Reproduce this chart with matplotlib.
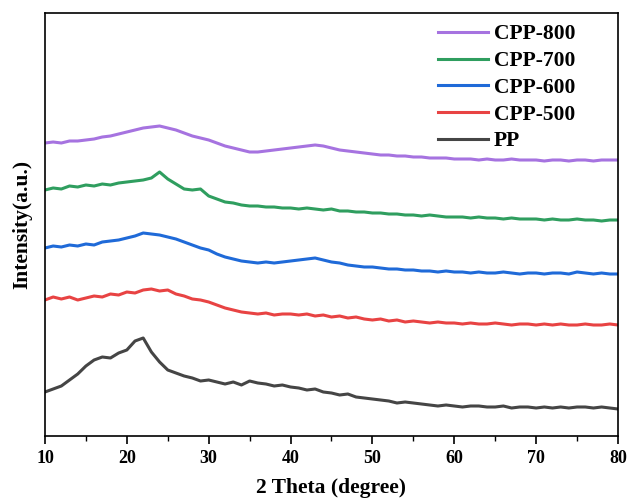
import numpy as np
import matplotlib
matplotlib.use("Agg")
import matplotlib.pyplot as plt
from matplotlib.ticker import MultipleLocator

# 2 theta, шаг 1 градус
two_theta = np.arange(10, 81, 1)

pp = [44, 47, 50, 56, 62, 70, 76, 79, 78, 83,
      86, 95, 98, 84, 74, 66, 63, 60, 58, 55,
      56, 54, 52, 54, 51, 55, 53, 52, 50, 51,
      49, 48, 46, 47, 44, 43, 41, 42, 39, 38,
      37, 36, 35, 33, 34, 33, 32, 31, 30, 31,
      30, 29, 30, 30, 29, 29, 30, 28, 29, 29,
      28, 29, 28, 29, 28, 29, 29, 28, 29, 28, 27]
cpp500 = [136, 139, 137, 139, 136, 138, 140, 139, 142, 141,
          144, 143, 146, 147, 145, 146, 142, 140, 137, 136,
          134, 131, 128, 126, 124, 123, 122, 123, 121, 122,
          122, 121, 122, 120, 121, 119, 120, 118, 119, 117,
          116, 117, 115, 116, 114, 115, 114, 113, 114, 113,
          113, 112, 113, 112, 112, 113, 112, 111, 112, 112,
          111, 112, 111, 112, 111, 111, 112, 111, 111, 112, 111]
cpp600 = [188, 190, 189, 191, 190, 192, 191, 194, 195, 196,
          198, 200, 203, 202, 201, 199, 197, 194, 191, 188,
          186, 182, 179, 177, 175, 174, 173, 174, 173, 174,
          175, 176, 177, 178, 176, 174, 173, 171, 170, 169,
          169, 168, 167, 167, 166, 166, 165, 165, 164, 165,
          164, 164, 163, 164, 163, 163, 164, 163, 162, 163,
          163, 162, 163, 163, 162, 164, 163, 162, 163, 162, 162]
cpp700 = [246, 248, 247, 250, 249, 251, 250, 252, 251, 253,
          254, 255, 256, 258, 264, 257, 252, 247, 246, 247,
          240, 237, 234, 233, 231, 230, 230, 229, 229, 228,
          228, 227, 228, 227, 226, 227, 225, 225, 224, 224,
          223, 223, 222, 222, 221, 221, 220, 221, 220, 219,
          219, 219, 218, 219, 218, 218, 217, 218, 217, 217,
          217, 216, 217, 216, 216, 217, 216, 216, 215, 216, 216]
cpp800 = [293, 294, 293, 295, 295, 296, 297, 299, 300, 302,
          304, 306, 308, 309, 310, 308, 306, 303, 300, 298,
          296, 293, 290, 288, 286, 284, 284, 285, 286, 287,
          288, 289, 290, 291, 290, 288, 286, 285, 284, 283,
          282, 281, 281, 280, 280, 279, 279, 278, 278, 278,
          277, 277, 277, 276, 277, 276, 276, 277, 276, 276,
          276, 275, 276, 276, 275, 276, 276, 275, 276, 276, 276]

labels = ["CPP-800", "CPP-700", "CPP-600", "CPP-500", "PP"]
series = [cpp800, cpp700, cpp600, cpp500, pp]
colors = ["#a673e0", "#2f9e5f", "#1f6ad8", "#e84343", "#454545"]

plt.rcParams["font.family"] = "Liberation Serif"
plt.rcParams["font.weight"] = "bold"

fig = plt.figure(figsize=(6.29, 5.0), dpi=100)
ax = fig.add_axes([0.0715, 0.128, 0.911, 0.846])

for y, lab, c in zip(series, labels, colors):
    ax.plot(two_theta, y, color=c, lw=2.2, label=lab)

ax.set_xlim(10, 80)
ax.set_ylim(0, 423)
ax.set_yticks([])
ax.xaxis.set_major_locator(MultipleLocator(10))
ax.xaxis.set_minor_locator(MultipleLocator(5))
ax.tick_params(axis="x", which="major", direction="out", length=6, width=1.2,
               labelsize=13, top=False, pad=4)
ax.tick_params(axis="x", which="minor", direction="out", length=3.5, width=1.0, top=False)
for s in ax.spines.values():
    s.set_linewidth(1.2)

ax.set_xlabel("2 Theta (degree)", fontsize=15.5, fontweight="bold", labelpad=8)
ax.set_ylabel("Intensity(a.u.)", fontsize=15.5, fontweight="bold", labelpad=9)

ax.legend(loc="upper left", bbox_to_anchor=(0.686, 0.973), frameon=False,
          fontsize=15.5, handlelength=2.3, labelspacing=0.31, borderaxespad=0,
          borderpad=0, handletextpad=0.3)

fig.savefig("out.png", dpi=100)
